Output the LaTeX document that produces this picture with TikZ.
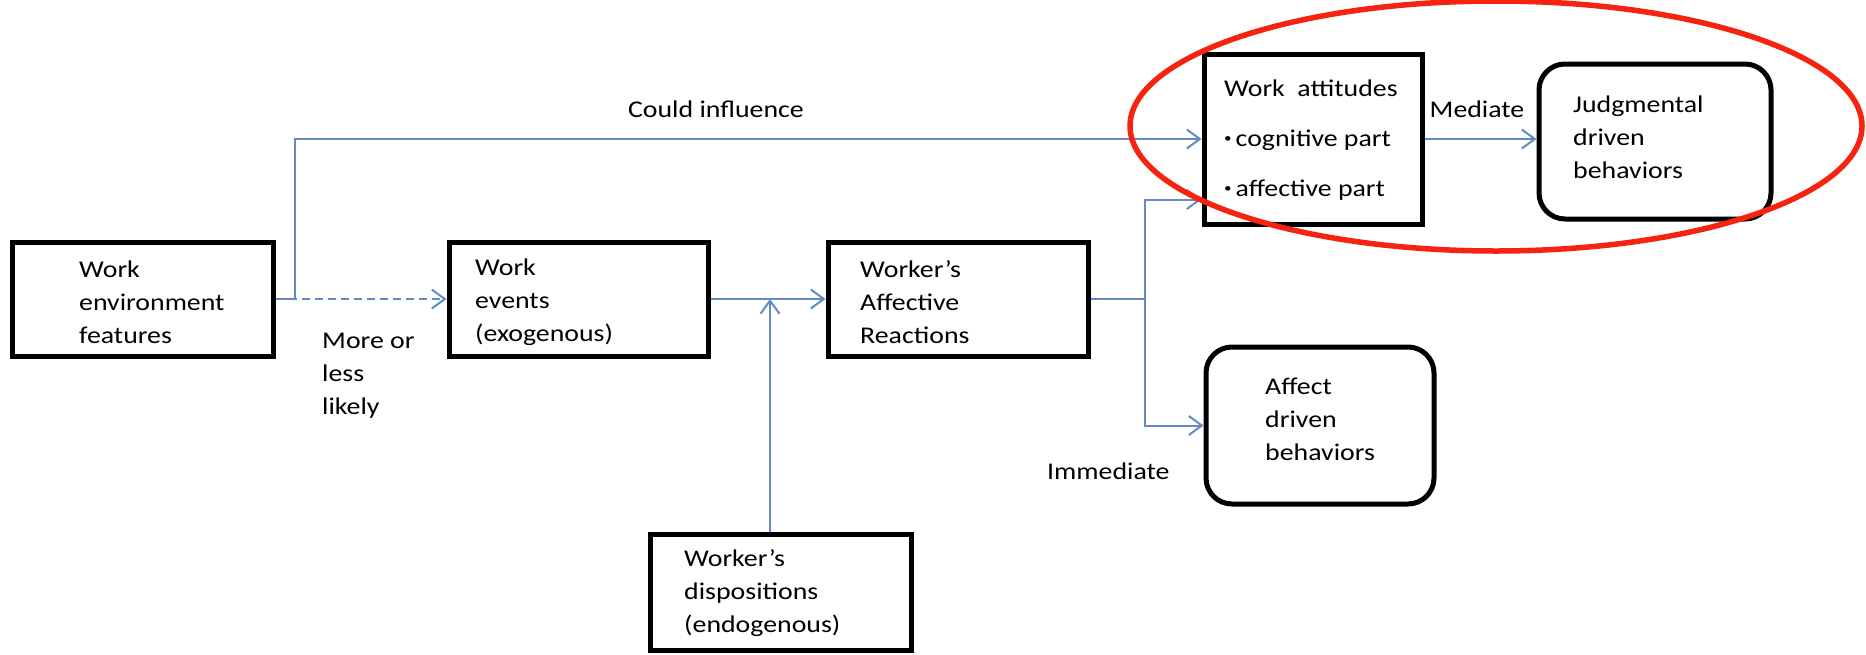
\documentclass[tikz,border=0pt]{standalone}
\usepackage{fontspec}
\setmainfont{Carlito}[FakeStretch=1.16]
\usetikzlibrary{arrows.meta,calc}
\definecolor{linkblue}{RGB}{100,138,196}
\definecolor{markred}{RGB}{245,35,15}
% small raised list bullet
\newcommand{\smallbul}{\raisebox{4pt}{\fontsize{13}{13}\selectfont\textbullet}\hspace{4pt}}
\begin{document}
\begin{tikzpicture}[x=1pt,y=-1pt,
  box/.style 2 args={draw=black,line width=5pt,minimum width=#1,minimum height=#2,inner sep=0pt},
  rbox/.style 2 args={box={#1}{#2},rounded corners=26pt},
  txt/.style={inner sep=0pt,align=left,font=\fontsize{24}{33}\selectfont},
  link/.style={draw=linkblue,line width=2pt},
  tip/.style={-{Straight Barb[length=13pt,width=19pt,line width=2pt]}}]
\useasboundingbox (0,0) rectangle (1866,654);

% boxes
\node[box={261}{114}] (b1) at (142.5,299) {};
\node[box={259}{114}] (b2) at (578.5,299) {};
\node[box={260}{114}] (b3) at (958,299) {};
\node[box={261}{116}] (b4) at (780.5,592) {};
\node[box={218}{170}] (att) at (1313,139) {};
\node[rbox={232}{155}] (jud) at (1655,141.5) {};
\node[rbox={228}{157}] (aff) at (1320,425.5) {};

% box texts
\node[txt,anchor=west] (b1t) at (79,302) {Work\\environment\\features};
\node[txt,anchor=west] (b2t) at (475,302) {Work\\events\\(exogenous)};
\node[txt,anchor=west] (b3t) at (860,302) {Worker’s\\Affective\\Reactions};
\node[txt,anchor=west] (b4t) at (684,593) {Worker’s\\dispositions\\(endogenous)};
\node[txt,anchor=west] (afft) at (1265,419) {Affect\\driven\\behaviors};
\node[txt,anchor=west] (judt) at (1573,137) {Judgmental\\driven\\behaviors};
\node[txt,anchor=west,font=\fontsize{24}{50}\selectfont] (attt) at (1224,140)
  {Work\ \ attitudes\\\smallbul cognitive part\\\smallbul affective part};

% connector labels
\node[txt] (lcould) at (716,109) {Could influence};
\node[txt] (lmed) at (1477,109) {Mediate};
\node[txt,anchor=west] (lmore) at (322,376) {More or\\less\\likely};
\node[txt,anchor=west] (limm) at (1047,471) {Immediate};

% connectors
\coordinate (split) at (295,299);
\coordinate (merge) at (770,299);
\coordinate (fork) at (1145,299);
\coordinate (attin) at ($(att.south west)+(0,-27)$);
\draw[link,tip,dash pattern=on 8pt off 5pt] (b1.east) -- (b2.west);
\draw[link,tip] (b1.east) -- (split) |- (att.west);
\draw[link,tip] (b2.east) -- (b3.west);
\draw[link,tip] (b4.north -| merge) -- (merge);
\draw[link] (b3.east) -- (fork);
\draw[link,tip] (fork) |- (attin);
\draw[link,tip] (fork) |- (aff.west);
\draw[link,tip] (att.east) -- (att.east -| jud.west);

% highlight ring
\draw[markred,line width=5.5pt] (1496,126) ellipse [x radius=366,y radius=125];
\end{tikzpicture}
\end{document}
